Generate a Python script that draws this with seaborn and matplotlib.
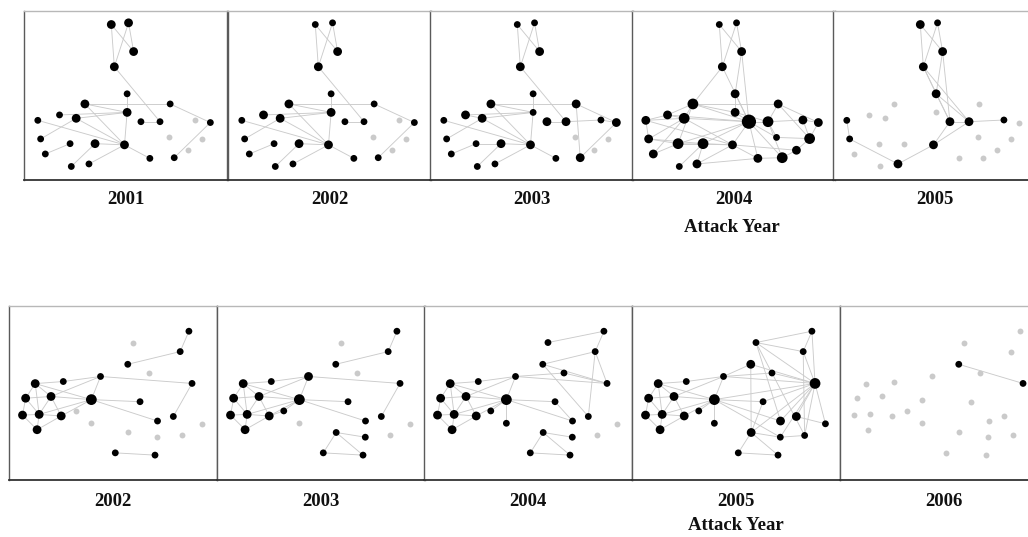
import matplotlib
matplotlib.use("Agg")
import matplotlib.pyplot as plt
import pandas as pd
import seaborn as sns

sns.set_style("white")

# ---------------- data ----------------
# Top network (attacks 2001-2005): node layout (fraction of panel, y from top)
top_names = ["A", "B", "C", "D", "E", "F", "G", "H", "I", "J", "K", "L", "M", "N",
             "O", "P", "Q", "R", "S", "T", "U", "V", "W", "X", "Y", "Z", "AA"]
top_x = [0.43, 0.515, 0.54, 0.445, 0.508, 0.30, 0.72, 0.175, 0.257, 0.508, 0.576, 0.67, 0.842, 0.918,
         0.068, 0.082, 0.227, 0.35, 0.495, 0.712, 0.875, 0.105, 0.62, 0.74, 0.81, 0.233, 0.32]
top_y = [0.08, 0.07, 0.24, 0.33, 0.49, 0.55, 0.55, 0.615, 0.635, 0.60, 0.655, 0.655, 0.645, 0.66,
         0.647, 0.757, 0.785, 0.785, 0.792, 0.748, 0.755, 0.846, 0.872, 0.868, 0.824, 0.92, 0.905]
top_years = ["2001", "2002", "2003", "2004", "2005"]
# node status per year: 0 = inactive (grey), 1..4 = active, growing node size
top_status = {
    "2001": [2, 2, 2, 2, 1, 2, 1, 1, 2, 2, 1, 1, 0, 1, 1, 1, 1, 2, 2, 0, 0, 1, 1, 1, 0, 1, 1],
    "2002": [1, 1, 2, 2, 1, 2, 1, 2, 2, 2, 1, 1, 0, 1, 1, 1, 1, 2, 2, 0, 0, 1, 1, 1, 0, 1, 1],
    "2003": [1, 1, 2, 2, 1, 2, 2, 2, 2, 1, 2, 2, 1, 2, 1, 1, 1, 2, 2, 0, 0, 1, 1, 2, 0, 1, 1],
    "2004": [1, 1, 2, 2, 2, 3, 2, 2, 3, 2, 4, 3, 2, 2, 2, 2, 3, 3, 2, 1, 3, 2, 2, 3, 2, 1, 2],
    "2005": [2, 1, 2, 2, 2, 0, 0, 0, 0, 0, 2, 2, 1, 0, 1, 1, 0, 0, 2, 0, 0, 0, 0, 0, 0, 0, 2],
}
top_edges = {
    "2001": ["A-D", "A-C", "B-C", "B-D", "D-L", "E-J", "J-S", "F-G", "F-J", "I-J", "H-J", "F-S",
             "I-S", "O-S", "P-I", "V-Q", "Z-R", "AA-S", "R-S", "S-W", "G-N", "X-N", "K-L"],
    "2002": ["A-D", "A-C", "B-C", "B-D", "D-L", "E-J", "J-S", "F-G", "F-J", "I-J", "H-J", "F-S",
             "I-S", "O-S", "P-I", "V-Q", "Z-R", "AA-S", "R-S", "S-W", "G-N", "X-N", "K-L"],
    "2003": ["A-D", "A-C", "B-C", "B-D", "D-L", "E-J", "J-S", "F-G", "F-J", "I-J", "H-J", "F-S",
             "I-S", "O-S", "P-I", "V-Q", "Z-R", "AA-S", "R-S", "S-W", "G-N", "X-N", "K-L",
             "L-M", "M-N", "G-X", "Q-R", "H-I"],
    "2004": ["A-D", "A-C", "B-C", "B-D", "D-F", "D-K", "C-E", "C-K", "E-K", "E-J", "F-G", "F-K",
             "F-J", "H-K", "I-K", "J-K", "J-L", "K-L", "L-M", "M-N", "G-N", "G-L", "O-H", "O-P",
             "O-I", "P-Q", "P-I", "Q-R", "R-S", "S-K", "Q-K", "V-Q", "V-I", "Z-R", "AA-R", "AA-S",
             "W-X", "X-Y", "Y-U", "U-N", "T-K", "W-K", "X-K", "S-W", "L-X", "G-U", "R-K", "H-F",
             "I-F", "Q-F", "H-I", "T-L", "U-M", "S-Y", "AA-W", "I-S", "O-S", "P-R", "Q-S", "T-U"],
    "2005": ["A-D", "A-C", "B-C", "B-D", "C-E", "D-E", "D-K", "E-K", "C-K", "D-L", "K-L", "L-M",
             "S-K", "S-L", "AA-S", "AA-P", "O-P", "E-L"],
}

# Bottom network (attacks 2002-2006)
bot_names = ["n1", "n2", "n3", "n4", "n5", "n6", "n7", "n8", "n9", "n10", "n11", "n12", "n13", "n14",
             "n15", "n16", "n17", "n18", "n19", "n20", "n21", "n22", "n23", "n24", "n25", "n26", "n27"]
bot_x = [0.865, 0.596, 0.823, 0.571, 0.673, 0.88, 0.44, 0.261, 0.126, 0.202, 0.08, 0.396, 0.63, 0.065,
         0.145, 0.251, 0.321, 0.396, 0.714, 0.79, 0.93, 0.573, 0.713, 0.83, 0.135, 0.511, 0.702]
bot_y = [0.145, 0.21, 0.262, 0.335, 0.385, 0.445, 0.405, 0.434, 0.446, 0.52, 0.53, 0.538, 0.55, 0.627,
         0.623, 0.632, 0.603, 0.674, 0.661, 0.635, 0.677, 0.727, 0.754, 0.744, 0.711, 0.844, 0.857]
bot_years = ["2002", "2003", "2004", "2005", "2006"]
bot_status = {
    "2002": [1, 0, 1, 1, 0, 1, 1, 1, 2, 2, 2, 3, 1, 2, 2, 2, 0, 0, 1, 1, 0, 0, 0, 0, 2, 1, 1],
    "2003": [1, 0, 1, 1, 0, 1, 2, 1, 2, 2, 2, 3, 1, 2, 2, 2, 1, 0, 1, 1, 0, 1, 1, 0, 2, 1, 1],
    "2004": [1, 1, 1, 1, 1, 1, 1, 1, 2, 2, 2, 3, 1, 2, 2, 2, 1, 1, 1, 1, 0, 1, 1, 0, 2, 1, 1],
    "2005": [1, 1, 1, 2, 1, 3, 1, 1, 2, 2, 2, 3, 1, 2, 2, 2, 1, 1, 2, 2, 1, 2, 1, 1, 2, 1, 1],
    "2006": [0, 0, 0, 1, 0, 1, 0, 0, 0, 0, 0, 0, 0, 0, 0, 0, 0, 0, 0, 0, 0, 0, 0, 0, 0, 0, 0],
}
bot_cluster_edges = ["n8-n9", "n9-n10", "n9-n11", "n10-n11", "n11-n14", "n14-n15", "n15-n16",
                     "n15-n25", "n10-n16", "n16-n25", "n14-n25", "n10-n15", "n11-n15", "n9-n15",
                     "n8-n7", "n10-n7", "n16-n12", "n10-n12", "n15-n12", "n9-n12"]
bot_edges = {
    "2002": ["n1-n3", "n3-n4", "n7-n6", "n6-n20", "n7-n12", "n12-n19", "n12-n13", "n26-n27"],
    "2003": ["n1-n3", "n3-n4", "n7-n6", "n6-n20", "n7-n12", "n12-n19", "n12-n13", "n22-n23",
             "n22-n26", "n26-n27", "n22-n27", "n17-n12", "n17-n16"],
    "2004": ["n1-n2", "n1-n3", "n3-n4", "n3-n20", "n3-n6", "n4-n20", "n5-n7", "n5-n6", "n7-n6",
             "n7-n12", "n12-n13", "n12-n19", "n12-n18", "n22-n23", "n22-n26", "n26-n27", "n22-n27",
             "n17-n12", "n4-n6", "n13-n19"],
    "2005": ["n1-n2", "n1-n6", "n2-n6", "n3-n6", "n4-n6", "n5-n6", "n7-n6", "n12-n6", "n13-n6",
             "n19-n6", "n20-n6", "n21-n6", "n22-n6", "n23-n6", "n24-n6", "n2-n3", "n1-n3", "n2-n19",
             "n4-n22", "n4-n7", "n5-n7", "n7-n12", "n12-n13", "n12-n19", "n12-n18", "n12-n23",
             "n22-n23", "n22-n26", "n26-n27", "n22-n27", "n23-n24", "n20-n21", "n17-n12", "n3-n24",
             "n13-n22", "n2-n24"],
    "2006": ["n4-n6"],
}
bot_cluster_years = ["2002", "2003", "2004", "2005"]

axis_title = "Attack Year"

# ---------------- drawing ----------------
W, H = 1028, 537
fig = plt.figure(figsize=(W / 100, H / 100), dpi=100)
fig.patch.set_facecolor("white")

NODE_SIZES = {"1": 24, "2": 40, "3": 60, "4": 105}
EDGE_COLOR = "#cbcbcb"
GREY_NODE = "#cacaca"


def draw_panel(rect, names, xs, ys, status, edges):
    l, t, w, h = rect
    ax = fig.add_axes([l / W, 1 - (t + h) / H, w / W, h / H])
    pos = {n: (x, y) for n, x, y in zip(names, xs, ys)}
    rows = []
    for i, e in enumerate(edges):
        a, b = e.split("-")
        rows.append({"eid": i, "x": pos[a][0], "y": pos[a][1]})
        rows.append({"eid": i, "x": pos[b][0], "y": pos[b][1]})
    if rows:
        edf = pd.DataFrame(rows)
        sns.lineplot(data=edf, x="x", y="y", units="eid", estimator=None, sort=False,
                     color=EDGE_COLOR, linewidth=0.65, ax=ax, legend=False, zorder=1)
    ndf = pd.DataFrame({"x": xs, "y": ys, "cls": [str(s) for s in status]})
    off = ndf[ndf["cls"] == "0"]
    on = ndf[ndf["cls"] != "0"]
    if len(off):
        sns.scatterplot(data=off, x="x", y="y", color=GREY_NODE, s=18, linewidth=0,
                        ax=ax, legend=False, zorder=2)
    if len(on):
        sns.scatterplot(data=on, x="x", y="y", size="cls", sizes=NODE_SIZES, color="black",
                        linewidth=0, ax=ax, legend=False, zorder=3)
    ax.set_xlim(0, 1)
    ax.set_ylim(1, 0)
    ax.set_xticks([])
    ax.set_yticks([])
    ax.set_xlabel("")
    ax.set_ylabel("")
    ax.set_facecolor("white")
    ax.spines["top"].set_color("#b8b8b8")
    ax.spines["left"].set_color("#5a5a5a")
    ax.spines["right"].set_color("#5a5a5a")
    ax.spines["bottom"].set_color("#333333")
    ax.spines["bottom"].set_linewidth(1.3)
    for s in ("top", "left", "right"):
        ax.spines[s].set_linewidth(1.0)
    return ax


def label(x, y, txt):
    fig.text(x / W, 1 - y / H, txt, ha="center", va="center", fontsize=13.5,
             fontweight="bold", family="Liberation Serif", color="#111111")


top_lefts = [24, 228, 430, 632, 833]
top_w, top_t, top_h = 203, 11, 169
for yr, l in zip(top_years, top_lefts):
    draw_panel((l, top_t, top_w, top_h), top_names, top_x, top_y, top_status[yr], top_edges[yr])
    label(l + top_w / 2, 200, yr)
label(632 + top_w / 2 - 2, 228, axis_title)

bot_lefts = [9, 217, 424, 632, 840]
bot_w, bot_t, bot_h = 208, 306, 174
for yr, l in zip(bot_years, bot_lefts):
    e = (bot_cluster_edges if yr in bot_cluster_years else []) + bot_edges[yr]
    draw_panel((l, bot_t, bot_w, bot_h), bot_names, bot_x, bot_y, bot_status[yr], e)
    label(l + bot_w / 2, 502, yr)
label(632 + bot_w / 2, 526, axis_title)

fig.savefig("out.png", dpi=100, facecolor="white")
